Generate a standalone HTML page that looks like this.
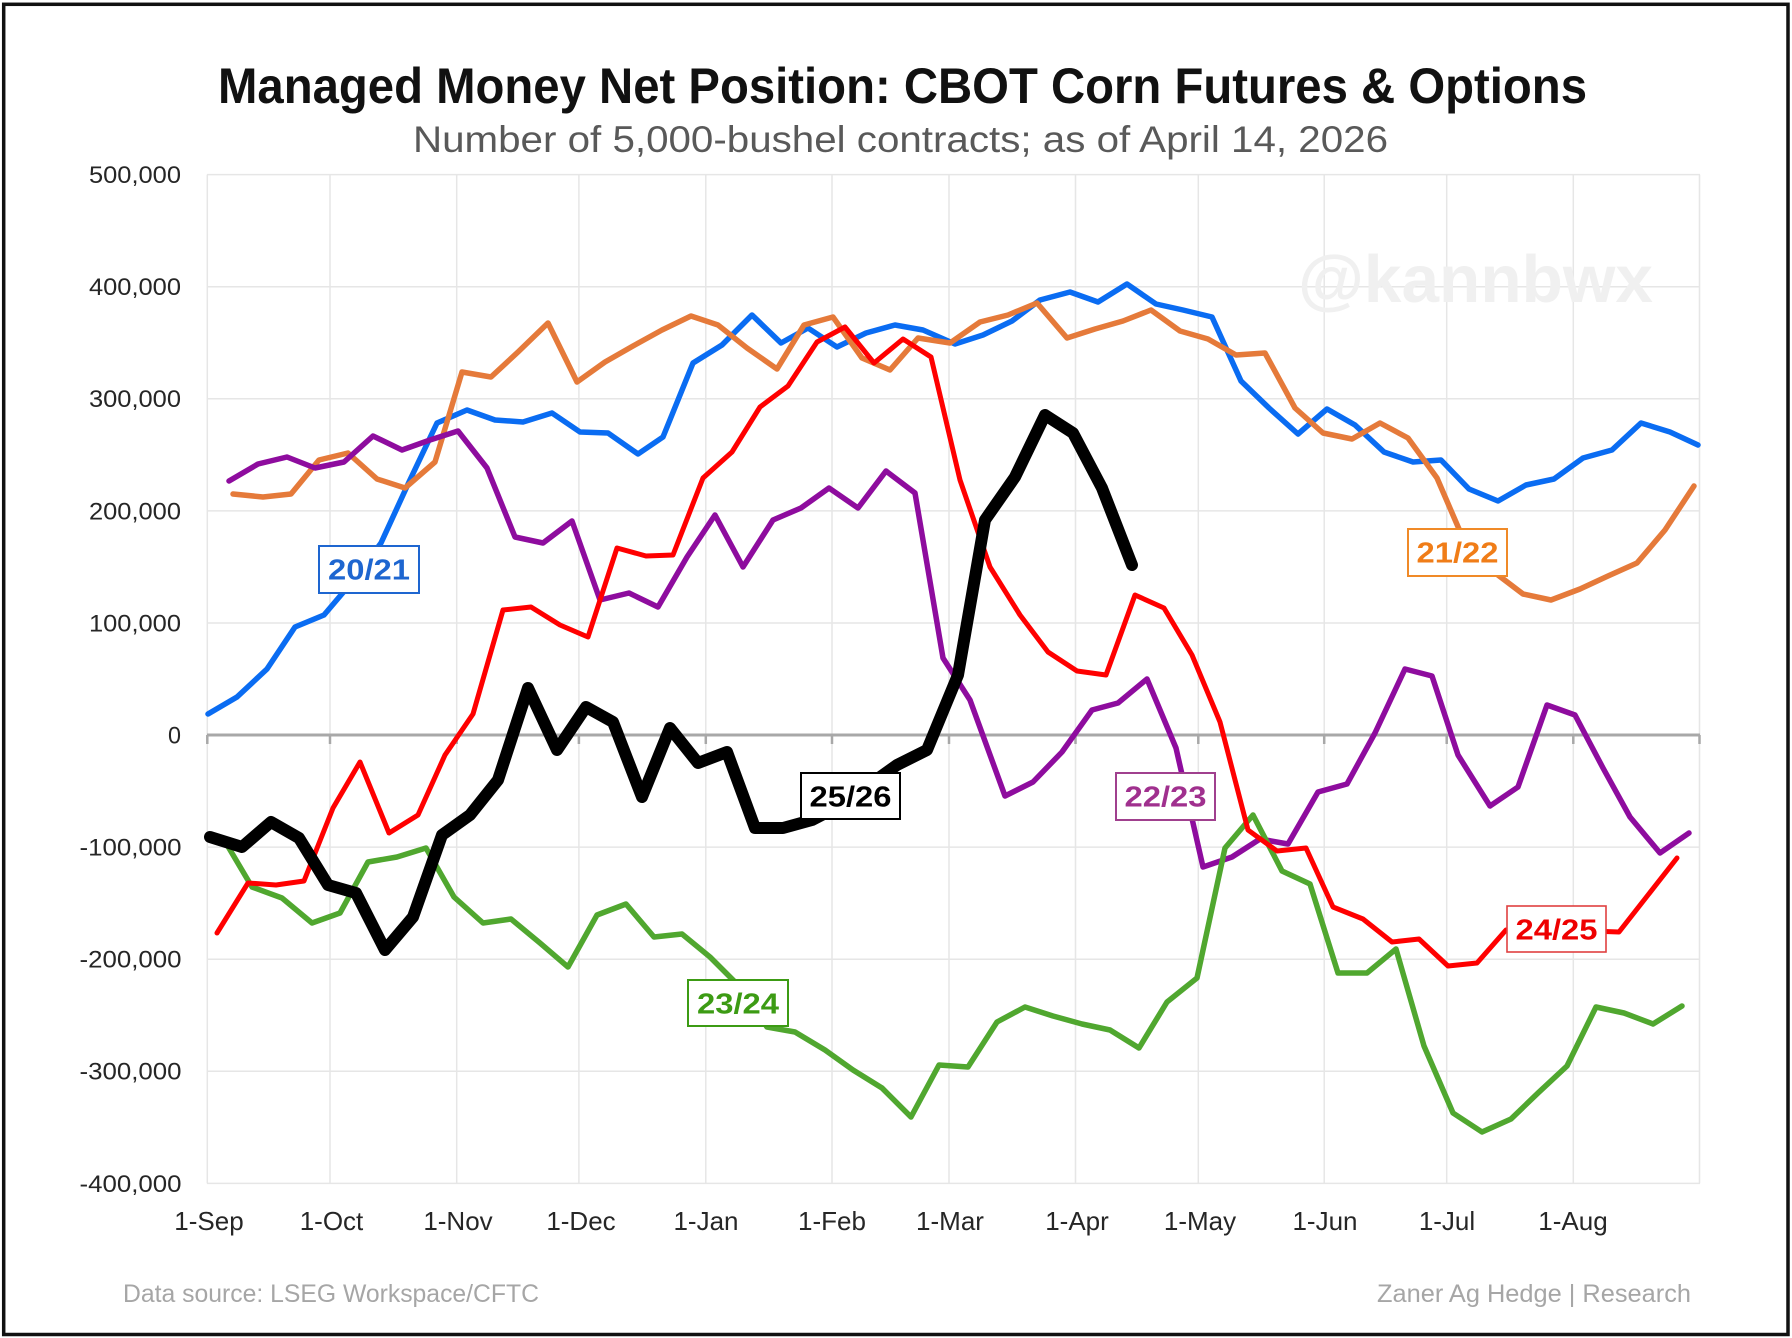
<!DOCTYPE html>
<html>
<head>
<meta charset="utf-8">
<style>
  html, body { margin:0; padding:0; background:#ffffff; }
  svg { display:block; }
  text { font-family: "Liberation Sans", "DejaVu Sans", sans-serif; }
</style>
</head>
<body>
<svg xmlns="http://www.w3.org/2000/svg" width="1792" height="1338" viewBox="0 0 1792 1338">
  <rect x="0" y="0" width="1792" height="1338" fill="#ffffff"/>
  <!-- outer border -->
  <rect x="3.7" y="4.3" width="1784.3" height="1330.2" fill="none" stroke="#111111" stroke-width="3.5"/>

  <!-- title -->
  <text x="218" y="103" font-size="50" font-weight="bold" fill="#111111" textLength="1369" lengthAdjust="spacingAndGlyphs">Managed Money Net Position: CBOT Corn Futures &amp; Options</text>
  <text x="413" y="152" font-size="37" fill="#595959" textLength="975" lengthAdjust="spacingAndGlyphs">Number of 5,000-bushel contracts; as of April 14, 2026</text>

  <!-- horizontal gridlines -->
  <g stroke="#e6e6e6" stroke-width="1.5">
    <line x1="207" y1="174.6" x2="1700" y2="174.6"/>
    <line x1="207" y1="286.7" x2="1700" y2="286.7"/>
    <line x1="207" y1="398.8" x2="1700" y2="398.8"/>
    <line x1="207" y1="510.9" x2="1700" y2="510.9"/>
    <line x1="207" y1="623" x2="1700" y2="623"/>
    <line x1="207" y1="847.1" x2="1700" y2="847.1"/>
    <line x1="207" y1="959.2" x2="1700" y2="959.2"/>
    <line x1="207" y1="1071.3" x2="1700" y2="1071.3"/>
    <line x1="207" y1="1183.4" x2="1700" y2="1183.4"/>
  </g>
  <!-- vertical gridlines -->
  <g stroke="#e6e6e6" stroke-width="1.5">
    <line x1="207.3" y1="174.6" x2="207.3" y2="1183.4"/>
    <line x1="330" y1="174.6" x2="330" y2="1183.4"/>
    <line x1="456.7" y1="174.6" x2="456.7" y2="1183.4"/>
    <line x1="578.9" y1="174.6" x2="578.9" y2="1183.4"/>
    <line x1="705.8" y1="174.6" x2="705.8" y2="1183.4"/>
    <line x1="832" y1="174.6" x2="832" y2="1183.4"/>
    <line x1="949" y1="174.6" x2="949" y2="1183.4"/>
    <line x1="1075.5" y1="174.6" x2="1075.5" y2="1183.4"/>
    <line x1="1198.3" y1="174.6" x2="1198.3" y2="1183.4"/>
    <line x1="1324.2" y1="174.6" x2="1324.2" y2="1183.4"/>
    <line x1="1446.7" y1="174.6" x2="1446.7" y2="1183.4"/>
    <line x1="1573.3" y1="174.6" x2="1573.3" y2="1183.4"/>
    <line x1="1699.5" y1="174.6" x2="1699.5" y2="1183.4"/>
  </g>

  <!-- watermark -->
  <text x="1298" y="302" font-size="67" font-weight="bold" fill="#f0f0f0" textLength="355" lengthAdjust="spacingAndGlyphs">@kannbwx</text>

  <!-- zero axis -->
  <g stroke="#a8a8a8" stroke-width="2.5">
    <line x1="207" y1="735" x2="1700" y2="735" stroke-width="3"/>
    <line x1="207.3" y1="735" x2="207.3" y2="744"/>
    <line x1="330" y1="735" x2="330" y2="744"/>
    <line x1="456.7" y1="735" x2="456.7" y2="744"/>
    <line x1="578.9" y1="735" x2="578.9" y2="744"/>
    <line x1="705.8" y1="735" x2="705.8" y2="744"/>
    <line x1="832" y1="735" x2="832" y2="744"/>
    <line x1="949" y1="735" x2="949" y2="744"/>
    <line x1="1075.5" y1="735" x2="1075.5" y2="744"/>
    <line x1="1198.3" y1="735" x2="1198.3" y2="744"/>
    <line x1="1324.2" y1="735" x2="1324.2" y2="744"/>
    <line x1="1446.7" y1="735" x2="1446.7" y2="744"/>
    <line x1="1573.3" y1="735" x2="1573.3" y2="744"/>
    <line x1="1699.5" y1="735" x2="1699.5" y2="744"/>
  </g>

  <!-- y axis labels -->
  <g font-size="24" fill="#262626">
    <text x="89" y="183" textLength="92" lengthAdjust="spacingAndGlyphs">500,000</text>
    <text x="89" y="295.1" textLength="92" lengthAdjust="spacingAndGlyphs">400,000</text>
    <text x="89" y="407.2" textLength="92" lengthAdjust="spacingAndGlyphs">300,000</text>
    <text x="89" y="519.3" textLength="92" lengthAdjust="spacingAndGlyphs">200,000</text>
    <text x="89" y="631.4" textLength="92" lengthAdjust="spacingAndGlyphs">100,000</text>
    <text x="168" y="743.4" textLength="13" lengthAdjust="spacingAndGlyphs">0</text>
    <text x="79.5" y="855.5" textLength="102" lengthAdjust="spacingAndGlyphs">-100,000</text>
    <text x="79.5" y="967.6" textLength="102" lengthAdjust="spacingAndGlyphs">-200,000</text>
    <text x="79.5" y="1079.7" textLength="102" lengthAdjust="spacingAndGlyphs">-300,000</text>
    <text x="79.5" y="1191.8" textLength="102" lengthAdjust="spacingAndGlyphs">-400,000</text>
  </g>

  <!-- x axis labels -->
  <g font-size="26" fill="#262626" text-anchor="middle">
    <text x="209" y="1230">1-Sep</text>
    <text x="331.5" y="1230">1-Oct</text>
    <text x="458" y="1230">1-Nov</text>
    <text x="581" y="1230">1-Dec</text>
    <text x="706" y="1230">1-Jan</text>
    <text x="832" y="1230">1-Feb</text>
    <text x="950" y="1230">1-Mar</text>
    <text x="1077" y="1230">1-Apr</text>
    <text x="1200" y="1230">1-May</text>
    <text x="1325" y="1230">1-Jun</text>
    <text x="1447" y="1230">1-Jul</text>
    <text x="1573" y="1230">1-Aug</text>
  </g>

  <!-- series -->
  <g fill="none" stroke-linejoin="round" stroke-linecap="round">
    <!-- 20/21 blue -->
    <polyline stroke="#0A6CF2" stroke-width="5.5" points="208,714 237,697 267,669 295,627 324,615 352,582 381,543 409,482 437,423 467,410 495,420 523,422 552,413 580,432 608,433 638,454 663,437 693,363 722,345 752,315 781,343 808,328 837,347 866,333 895,325 923,330 955,344 983,335 1012,321 1040,300 1070,292 1098,302 1127,284 1156,304 1183,310 1212,317 1241,381 1269,408 1298,434 1327,409 1355,425 1384,452 1413,462 1441,460 1469,489 1498,501 1526,485 1554,479 1583,458 1612,450 1641,423 1670,432 1698,445"/>
    <!-- 21/22 orange -->
    <polyline stroke="#E57A3A" stroke-width="5.5" points="233,494 263,497 291,494 319,460 348,453 377,479 405,488 435,462 462,372 491,377 518,352 548,323 577,382 605,362 633,346 662,330 691,316 718,325 747,348 777,369 804,325 833,317 862,358 890,370 918,338 950,343 980,322 1008,315 1037,303 1067,338 1095,329 1123,321 1151,310 1180,331 1208,339 1236,355 1265,353 1295,408 1323,433 1352,439 1380,423 1408,438 1437,478 1465,543 1494,572 1523,594 1551,600 1580,589 1608,576 1637,563 1665,530 1694,486"/>
    <!-- 22/23 purple -->
    <polyline stroke="#8E0C9E" stroke-width="5.5" points="229,481 258,464 287,457 315,468 344,462 373,436 402,450 430,440 458,431 487,468 515,537 543,543 572,521 600,600 629,593 658,607 687,557 715,515 743,567 773,520 801,508 829,488 858,508 886,471 915,493 943,658 970,700 1005,796 1033,782 1062,752 1092,710 1118,703 1147,679 1176,748 1203,867 1232,857 1260,839 1288,844 1318,792 1347,784 1375,733 1405,669 1432,676 1458,755 1490,806 1518,787 1547,705 1575,715 1603,768 1630,817 1660,853 1689,833"/>
    <!-- 23/24 green -->
    <polyline stroke="#50A72F" stroke-width="5.5" points="223,838 252,887 282,898 312,923 340,913 368,862 397,857 426,848 454,897 483,923 511,919 540,943 568,967 597,915 626,904 654,937 682,934 710,957 738,985 767,1027 795,1032 825,1050 853,1070 882,1088 911,1117 939,1065 968,1067 997,1022 1025,1007 1053,1016 1082,1024 1110,1030 1139,1048 1167,1002 1197,978 1225,848 1253,815 1282,871 1310,884 1338,973 1367,973 1396,949 1424,1046 1453,1113 1482,1132 1511,1119 1538,1093 1567,1066 1596,1007 1624,1013 1653,1024 1682,1006"/>
    <!-- 24/25 red -->
    <polyline stroke="#FF0000" stroke-width="5" points="217,933 248,883 276,885 304,881 333,808 360,762 389,833 418,815 445,755 473,714 503,610 531,607 560,625 588,637 617,548 646,556 673,555 703,478 732,452 760,407 788,386 817,342 845,327 874,363 903,339 931,357 960,480 990,567 1020,615 1048,652 1077,671 1106,675 1135,595 1164,608 1192,655 1220,722 1248,830 1277,851 1306,848 1333,907 1363,919 1392,942 1419,939 1448,966 1477,963 1506,930 1534,928 1563,928 1591,931 1619,932 1648,895 1677,858"/>
    <!-- 25/26 black -->
    <polyline stroke="#000000" stroke-width="12" points="210,837 242,847 271,822 299,838 328,885 356,893 385,950 413,917 442,835 470,815 498,780 528,688 557,750 586,707 613,722 642,797 670,728 698,763 727,752 755,828 783,828 812,820 841,805 869,785 897,765 927,750 958,675 985,520 1015,477 1045,415 1073,433 1102,488 1132,565"/>
  </g>

  <!-- series labels -->
  <g font-size="29" font-weight="bold">
    <rect x="319" y="546" width="100" height="47" fill="#ffffff" stroke="#1E66D0" stroke-width="2"/>
    <text x="328" y="579.5" fill="#1E66D0" textLength="82" lengthAdjust="spacingAndGlyphs">20/21</text>

    <rect x="1408" y="529" width="99" height="47" fill="#ffffff" stroke="#F08A28" stroke-width="2"/>
    <text x="1416.5" y="562.5" fill="#F07D18" textLength="82" lengthAdjust="spacingAndGlyphs">21/22</text>

    <rect x="1116" y="773" width="99" height="47" fill="#ffffff" stroke="#A0408E" stroke-width="2"/>
    <text x="1124.5" y="806.5" fill="#A0308E" textLength="82" lengthAdjust="spacingAndGlyphs">22/23</text>

    <rect x="801" y="773" width="99" height="46" fill="#ffffff" stroke="#000000" stroke-width="2"/>
    <text x="809.5" y="806.5" fill="#000000" textLength="82" lengthAdjust="spacingAndGlyphs">25/26</text>

    <rect x="688" y="980" width="100" height="46" fill="#ffffff" stroke="#3C9B14" stroke-width="2"/>
    <text x="697" y="1013.5" fill="#3C9B14" textLength="82" lengthAdjust="spacingAndGlyphs">23/24</text>

    <rect x="1507" y="906" width="99" height="46" fill="#ffffff" stroke="#E04040" stroke-width="1.6"/>
    <text x="1515.5" y="939.5" fill="#EE0000" textLength="82" lengthAdjust="spacingAndGlyphs">24/25</text>
  </g>

  <!-- footer -->
  <text x="123" y="1302" font-size="25" fill="#a6a6a6" textLength="416" lengthAdjust="spacingAndGlyphs">Data source: LSEG Workspace/CFTC</text>
  <text x="1377" y="1302" font-size="25" fill="#a6a6a6" textLength="314" lengthAdjust="spacingAndGlyphs">Zaner Ag Hedge | Research</text>
</svg>
</body>
</html>
